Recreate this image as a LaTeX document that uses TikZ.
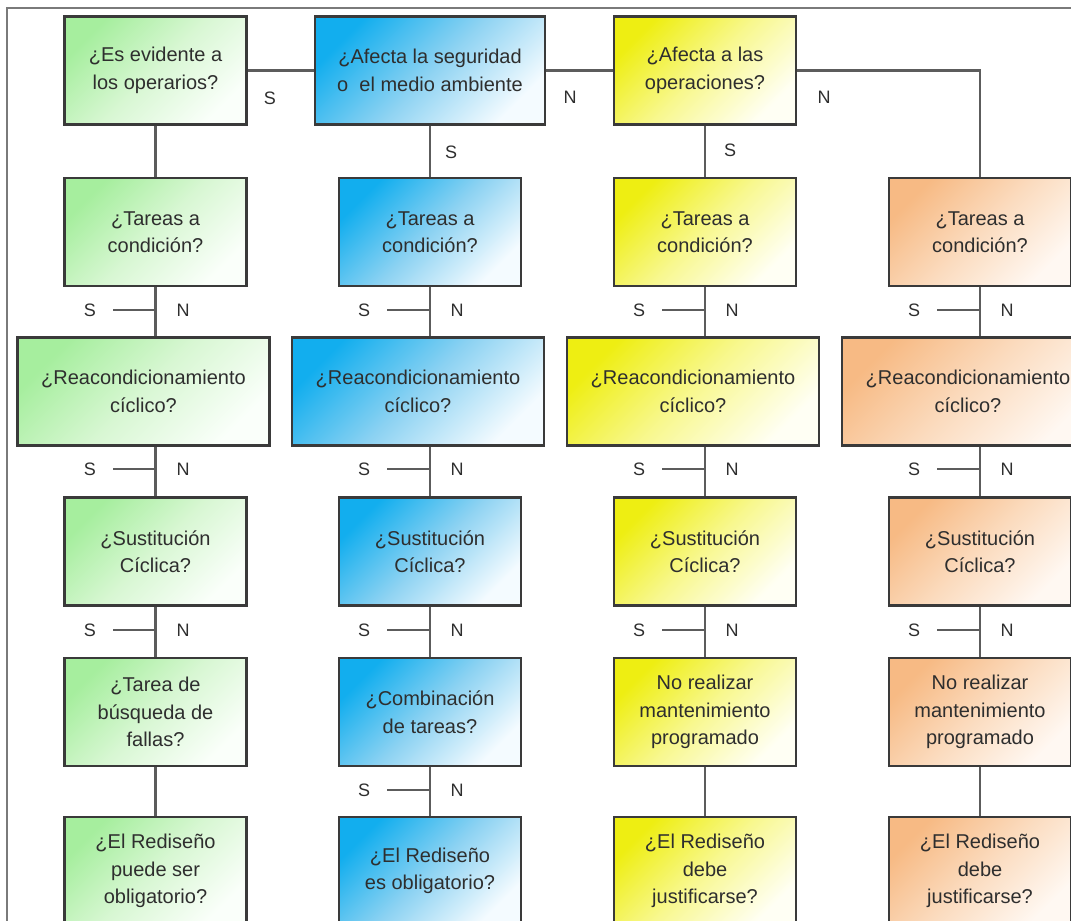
\documentclass[tikz,border=0pt]{standalone}
\usepackage{fontspec}
\setmainfont{Liberation Sans}
\definecolor{boxline}{HTML}{3A3A3A}
\definecolor{lineclr}{HTML}{5C5C5C}
\definecolor{frameclr}{HTML}{7A7A7A}
\definecolor{txt}{HTML}{2E2E2E}
\definecolor{gtop}{HTML}{A6EE9E}
\definecolor{gmid}{HTML}{D8F7D3}
\definecolor{gbot}{HTML}{FAFFFA}
\definecolor{btop}{HTML}{12AEEE}
\definecolor{bmid}{HTML}{8CD2F2}
\definecolor{bbot}{HTML}{F4FBFF}
\definecolor{ytop}{HTML}{EEEE12}
\definecolor{ymid}{HTML}{F8F890}
\definecolor{ybot}{HTML}{FFFFF4}
\definecolor{otop}{HTML}{F7BA84}
\definecolor{omid}{HTML}{FBDBBE}
\definecolor{obot}{HTML}{FFF8F2}
\begin{document}
\begin{tikzpicture}[x=1pt,y=-1pt,
  box/.style={draw=boxline, line width=2.4pt, align=center, text=txt,
    font=\fontsize{20}{27.5}\selectfont, minimum height=108pt, inner sep=2pt},
  nbox/.style={box, minimum width=182pt},
  wbox/.style={box, minimum width=252pt},
  gfill/.style={top color=gtop, bottom color=gbot, middle color=gmid, shading angle=45},
  bfill/.style={top color=btop, bottom color=bbot, middle color=bmid, shading angle=45},
  yfill/.style={top color=ytop, bottom color=ybot, middle color=ymid, shading angle=45},
  ofill/.style={top color=otop, bottom color=obot, middle color=omid, shading angle=45},
  conn/.style={draw=lineclr, line width=2.4pt},
  sline/.style={draw=lineclr, line width=2pt},
  lab/.style={text=txt, font=\fontsize{18}{20}\selectfont, inner sep=0pt}
]
\useasboundingbox (0,0) rectangle (1071,921);
\clip (0,0) rectangle (1071,921);

% frame
\coordinate (ftr) at (1071,8);
\coordinate (ftl) at (7,8);
\coordinate (fbl) at (7,921);
\draw[draw=frameclr, line width=2pt] (ftr) -- (ftl) -- (fbl);

% row 1
\node[nbox, gfill] (g1) at (155.5,70.5) {¿Es evidente a\\los operarios?};
\node[box, bfill, minimum width=230pt] (b1) at (430,70.5) {¿Afecta la seguridad\\o\ \ el medio ambiente};
\node[nbox, yfill] (y1) at (705,70.5) {¿Afecta a las\\operaciones?};

% row 2
\node[nbox, gfill] (g2) at (155.5,232) {¿Tareas a\\condición?};
\node[nbox, bfill] (b2) at (430,232) {¿Tareas a\\condición?};
\node[nbox, yfill] (y2) at (705,232) {¿Tareas a\\condición?};
\node[nbox, ofill] (o2) at (980,232) {¿Tareas a\\condición?};

% row 3
\node[wbox, gfill] (g3) at (143.5,391.5) {¿Reacondicionamiento\\cíclico?};
\node[wbox, bfill] (b3) at (418,391.5) {¿Reacondicionamiento\\cíclico?};
\node[wbox, yfill] (y3) at (693,391.5) {¿Reacondicionamiento\\cíclico?};
\node[wbox, ofill] (o3) at (968,391.5) {¿Reacondicionamiento\\cíclico?};

% row 4
\node[nbox, gfill] (g4) at (155.5,551.5) {¿Sustitución\\Cíclica?};
\node[nbox, bfill] (b4) at (430,551.5) {¿Sustitución\\Cíclica?};
\node[nbox, yfill] (y4) at (705,551.5) {¿Sustitución\\Cíclica?};
\node[nbox, ofill] (o4) at (980,551.5) {¿Sustitución\\Cíclica?};

% row 5
\node[nbox, gfill] (g5) at (155.5,712) {¿Tarea de\\búsqueda de\\fallas?};
\node[nbox, bfill] (b5) at (430,712) {¿Combinación\\de tareas?};
\node[nbox, yfill] (y5) at (705,712) {No realizar\\mantenimiento\\programado};
\node[nbox, ofill] (o5) at (980,712) {No realizar\\mantenimiento\\programado};

% row 6
\node[nbox, gfill] (g6) at (155.5,871) {¿El Rediseño\\puede ser\\obligatorio?};
\node[nbox, bfill] (b6) at (430,871) {¿El Rediseño\\es obligatorio?};
\node[nbox, yfill] (y6) at (705,871) {¿El Rediseño\\debe\\justificarse?};
\node[nbox, ofill] (o6) at (980,871) {¿El Rediseño\\debe\\justificarse?};

% top connectors
\draw[conn] (g1.east) -- (b1.west);
\draw[conn] (b1.east) -- (y1.west);
\draw[conn] (y1.east) -- (y1.east -| o2.north) -- (o2.north);
\node[lab] (ls1) at (270,98) {S};
\node[lab] (ln1) at (570,97) {N};
\node[lab] (ln2) at (824,97) {N};
\node[lab] (lsb) at (451,152) {S};
\node[lab] (lsy) at (730,150) {S};

% vertical connectors
\foreach \c in {g,b,y,o}{
  \draw[conn] (\c2.south) -- (\c2.south |- \c3.north);
  \draw[conn] (\c4.north |- \c3.south) -- (\c4.north);
  \draw[conn] (\c4.south) -- (\c5.north);
  \draw[conn] (\c5.south) -- (\c6.north);
}
\draw[conn] (g1.south) -- (g2.north);
\draw[conn] (b1.south) -- (b2.north);
\draw[conn] (y1.south) -- (y2.north);

% S / N junctions
\foreach \c/\cx in {g/156,b/430,y/705,o/980}{
  \foreach \r/\ry in {1/310,2/469,3/630}{
    \coordinate (j\c\r) at (\cx,\ry);
    \coordinate (k\c\r) at (\cx-43,\ry);
    \draw[sline] (k\c\r) -- (j\c\r);
    \node[lab] (s\c\r) at (\cx-66,\ry) {S};
    \node[lab] (n\c\r) at (\cx+27,\ry) {N};
  }
}
\coordinate (jb4) at (430,790);
\coordinate (kb4) at (387,790);
\draw[sline] (kb4) -- (jb4);
\node[lab] (sb4) at (364,790) {S};
\node[lab] (nb4) at (457,790) {N};
\end{tikzpicture}
\end{document}
